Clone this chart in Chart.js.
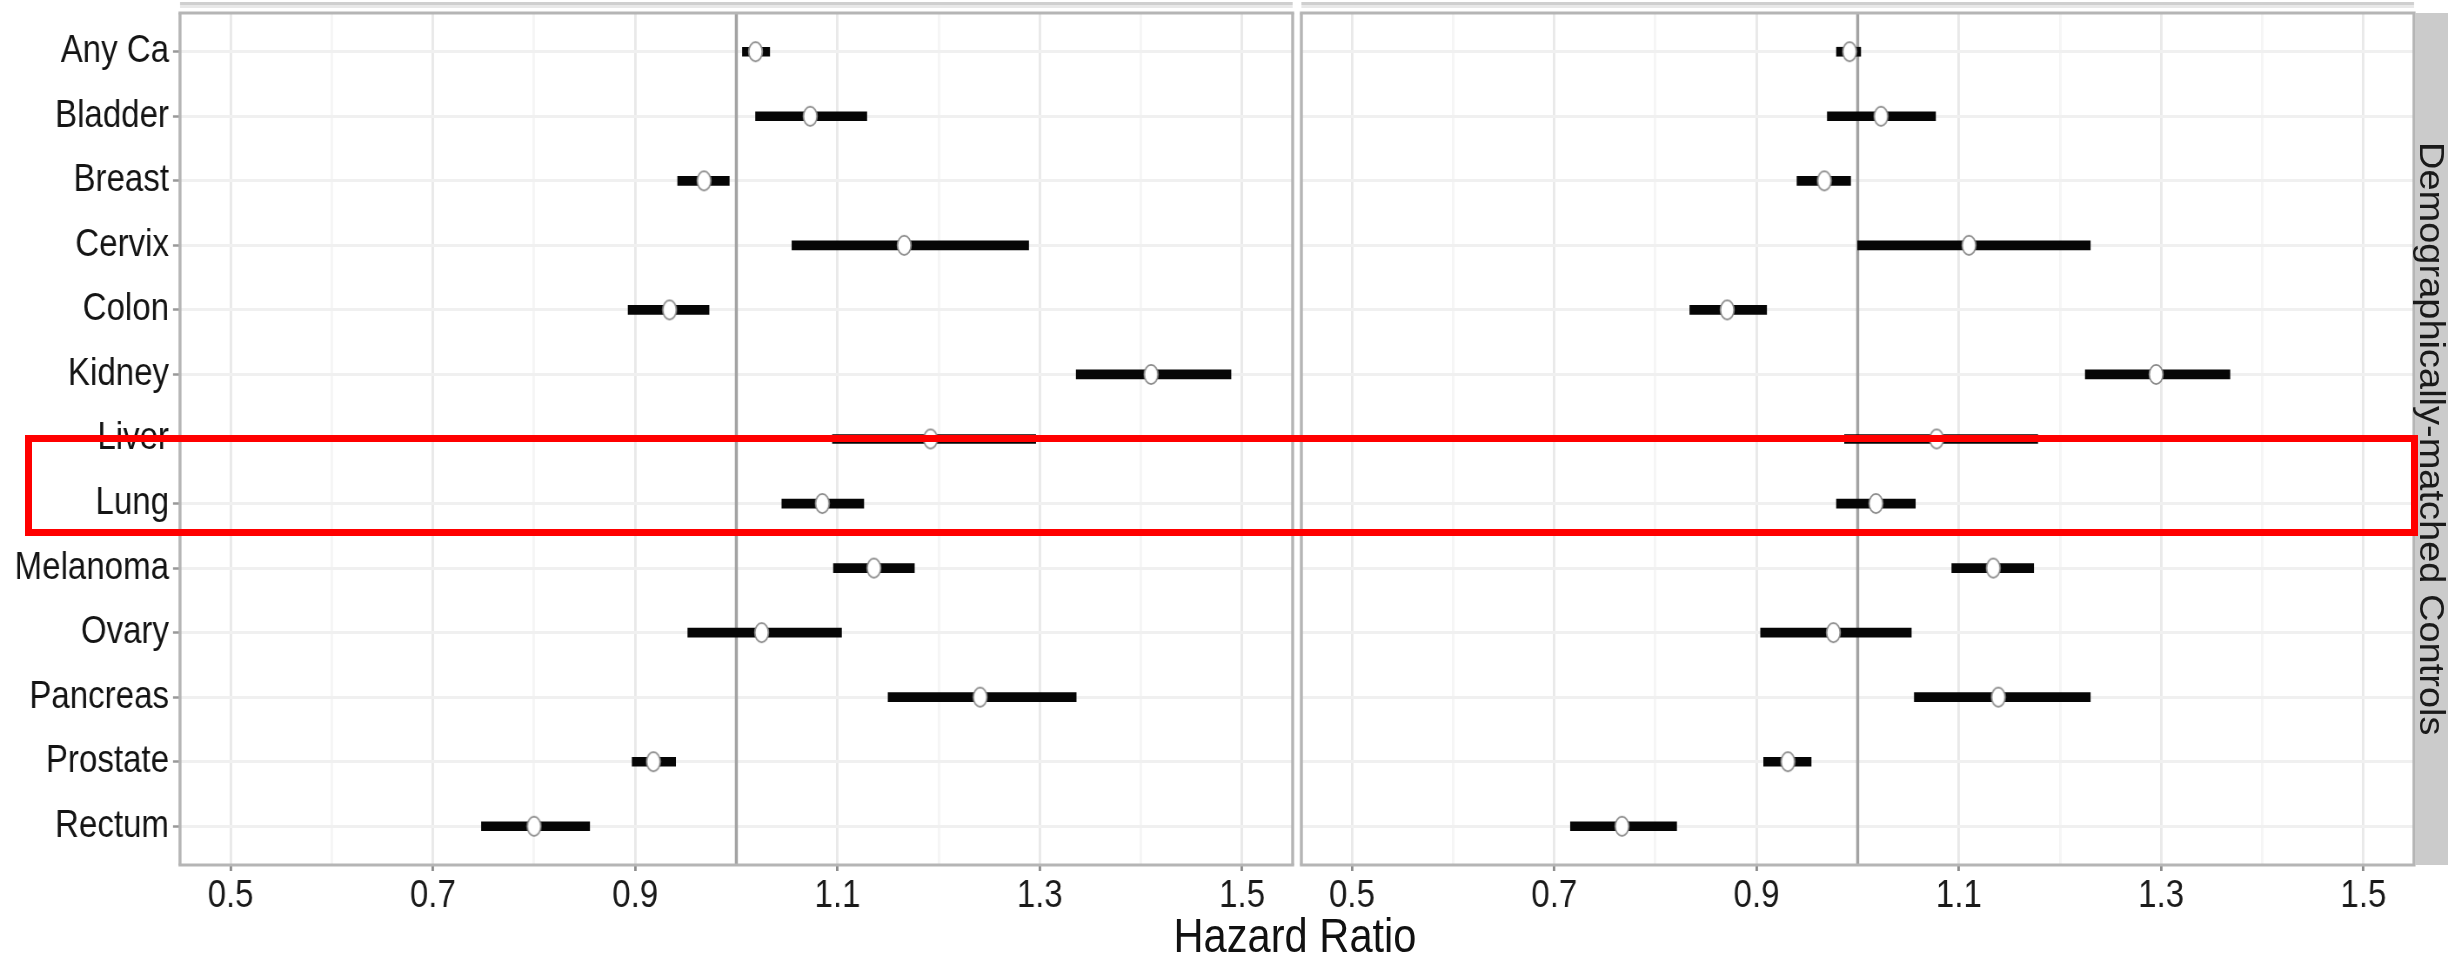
<!DOCTYPE html>
<html>
<head>
<meta charset="utf-8">
<script src="https://cdn.jsdelivr.net/npm/chart.js@4.4.1/dist/chart.umd.min.js"></script>
<style>
    html, body { margin: 0; padding: 0; background: #fff; }
    #wrap { position: relative; width: 2448px; height: 957px; overflow: hidden; background: #fff; }
    #leftChart { position: absolute; left: 0; top: 0; }
    #rightChart { position: absolute; left: 1297px; top: 0; }
    #xTitle {
        position: absolute; left: 995px; width: 600px; top: 910px; text-align: center;
        font: 49px/50px "Liberation Sans", Arial, sans-serif; color: #111;
        transform: scaleX(0.85);
    }
    #strip {
        position: absolute; left: 2415px; top: 13px; width: 33px; height: 852px; background: #cbcbcb;
        display: flex; align-items: center; justify-content: center;
    }
    #strip span {
        writing-mode: vertical-rl; white-space: nowrap; color: #1a1a1a;
        font: 38px "Liberation Sans", Arial, sans-serif; transform: scaleX(0.9);
    }
    #highlight { position: absolute; border: 7.5px solid #ff0000; box-sizing: border-box; }
</style>
</head>
<body>
<div id="wrap">
    <canvas id="leftChart"></canvas>
    <canvas id="rightChart"></canvas>
    <div id="strip"><span>Demographically-matched Controls</span></div>
    <div id="xTitle">Hazard Ratio</div>
    <div id="highlight"></div>
</div>
<script>
var categories = ["Any Ca", "Bladder", "Breast", "Cervix", "Colon", "Kidney", "Liver",
    "Lung", "Melanoma", "Ovary", "Pancreas", "Prostate", "Rectum"];

// left panel
var leftHR    = [1.019, 1.073, 0.968, 1.166, 0.934, 1.410, 1.192, 1.085, 1.136, 1.025, 1.241, 0.918, 0.800];
var leftLower = [1.006, 1.019, 0.942, 1.055, 0.893, 1.336, 1.095, 1.045, 1.096, 0.952, 1.150, 0.897, 0.748];
var leftUpper = [1.033, 1.129, 0.993, 1.289, 0.973, 1.489, 1.296, 1.126, 1.176, 1.104, 1.336, 0.940, 0.855];

// right panel
var rightHR    = [0.992, 1.023, 0.967, 1.110, 0.871, 1.295, 1.078, 1.018, 1.134, 0.976, 1.139, 0.931, 0.767];
var rightLower = [0.979, 0.970, 0.940, 1.000, 0.834, 1.225, 0.987, 0.979, 1.093, 0.904, 1.056, 0.907, 0.716];
var rightUpper = [1.003, 1.077, 0.993, 1.230, 0.910, 1.368, 1.178, 1.057, 1.174, 1.053, 1.230, 0.954, 0.821];

var xMajorTicks = [0.5, 0.7, 0.9, 1.1, 1.3, 1.5];
var xMajorLabels = ["0.5", "0.7", "0.9", "1.1", "1.3", "1.5"];
var xMinorTicks = [0.6, 0.8, 1.0, 1.2, 1.4];
var xMin = 0.45, xMax = 1.55;
var yMin = -0.6, yMax = 12.6;
var refValue = 1;

var highlightFrom = "Liver", highlightTo = "Lung";

// the plot is drawn on a wider canvas and squeezed horizontally by css
var squeeze = 0.87;
var plotHeight = 957;
var tickFont = "'Liberation Sans', Arial, sans-serif";

function majorIndex(v) {
    for (var i = 0; i < xMajorTicks.length; i++) {
        if (Math.abs(xMajorTicks[i] - v) < 1e-6) return i;
    }
    return -1;
}

function sizeCanvas(canvas, cssWidth) {
    canvas.width = Math.round(cssWidth / squeeze);
    canvas.height = plotHeight;
    canvas.style.width = cssWidth + 'px';
    canvas.style.height = plotHeight + 'px';
    return cssWidth / canvas.width;
}

// white ellipse marker with grey outline
function makeMarker(sx) {
    var c = document.createElement('canvas');
    c.width = Math.ceil(16 / sx);
    c.height = 23;
    var g = c.getContext('2d');
    g.beginPath();
    g.ellipse(c.width / 2, 11.5, 6.8 / sx, 9.6, 0, 0, Math.PI * 2);
    g.fillStyle = '#ffffff';
    g.fill();
    g.lineWidth = 1.8;
    g.strokeStyle = '#8a8a8a';
    g.stroke();
    return c;
}

function panelFrame(sx) {
    return {
        id: 'panelFrame',
        beforeDraw: function (chart) {
            var a = chart.chartArea, ctx = chart.ctx;
            ctx.save();
            ctx.fillStyle = '#cfcfcf';
            ctx.fillRect(a.left, 2, a.right - a.left, 3);
            ctx.fillStyle = '#e8e8e8';
            ctx.fillRect(a.left, 5, a.right - a.left, 3);
            ctx.restore();
        },
        afterDatasetsDraw: function (chart) {
            var a = chart.chartArea, ctx = chart.ctx;
            ctx.save();
            ctx.strokeStyle = '#b5b5b5';
            ctx.lineWidth = 3;
            ctx.beginPath();
            ctx.moveTo(a.left - 1.5 / sx, a.top); ctx.lineTo(a.right + 1.5 / sx, a.top);
            ctx.moveTo(a.left - 1.5 / sx, a.bottom); ctx.lineTo(a.right + 1.5 / sx, a.bottom);
            ctx.stroke();
            ctx.lineWidth = 3 / sx;
            ctx.beginPath();
            ctx.moveTo(a.left, a.top); ctx.lineTo(a.left, a.bottom);
            ctx.moveTo(a.right, a.top); ctx.lineTo(a.right, a.bottom);
            ctx.stroke();
            ctx.restore();
        }
    };
}

function createPanel(canvasId, cssWidth, hr, lower, upper, showLabels, pad) {
    var canvas = document.getElementById(canvasId);
    var sx = sizeCanvas(canvas, cssWidth);

    var ciData = categories.map(function (c, i) { return { x: [lower[i], upper[i]], y: i }; });
    var hrData = categories.map(function (c, i) { return { x: hr[i], y: i }; });

    return new Chart(canvas.getContext('2d'), {
        type: 'scatter',
        data: {
            datasets: [{
                type: 'scatter',
                data: hrData,
                pointStyle: makeMarker(sx),
                order: 0
            }, {
                type: 'bar',
                indexAxis: 'y',
                data: ciData,
                backgroundColor: '#060606',
                borderWidth: 0,
                barThickness: 9,
                order: 1
            }, {
                type: 'line',
                data: [{ x: refValue, y: yMin }, { x: refValue, y: yMax }],
                borderColor: '#a3a3a3',
                borderWidth: 3 / sx,
                pointRadius: 0,
                fill: false,
                order: 2
            }]
        },
        options: {
            responsive: false,
            animation: false,
            events: [],
            layout: { padding: { top: 13, bottom: 0, left: pad.left / sx, right: pad.right / sx } },
            plugins: { legend: { display: false }, tooltip: { enabled: false } },
            scales: {
                x: {
                    type: 'linear',
                    min: xMin,
                    max: xMax,
                    offset: false,
                    border: { display: false },
                    afterBuildTicks: function (scale) {
                        scale.ticks = xMajorTicks.concat(xMinorTicks)
                            .sort(function (a, b) { return a - b; })
                            .map(function (v) { return { value: v }; });
                    },
                    afterFit: function (scale) {
                        scale.height = 92;
                        scale.paddingLeft = 0;
                        scale.paddingRight = 0;
                    },
                    ticks: {
                        autoSkip: false,
                        maxRotation: 0,
                        padding: 3,
                        color: '#1a1a1a',
                        font: { family: tickFont, size: 38 },
                        callback: function (v) {
                            var k = majorIndex(v);
                            return k >= 0 ? xMajorLabels[k] : '';
                        }
                    },
                    grid: {
                        offset: false,
                        color: function (c) { return majorIndex(c.tick.value) >= 0 ? '#e9e9e9' : '#f5f5f5'; },
                        lineWidth: 2.5 / sx,
                        tickLength: 6,
                        tickWidth: 2.5 / sx,
                        tickColor: function (c) { return majorIndex(c.tick.value) >= 0 ? '#8c8c8c' : 'rgba(0,0,0,0)'; }
                    }
                },
                y: {
                    type: 'linear',
                    min: yMin,
                    max: yMax,
                    reverse: true,
                    offset: false,
                    border: { display: false },
                    afterBuildTicks: function (scale) {
                        scale.ticks = categories.map(function (c, i) { return { value: i }; });
                    },
                    afterFit: function (scale) {
                        scale.width = showLabels ? 180 / sx : 0;
                        // labels sit well inside the panel, no overhang needed
                        scale.paddingTop = 0;
                        scale.paddingBottom = 0;
                    },
                    ticks: {
                        display: showLabels,
                        autoSkip: false,
                        padding: 4 / sx,
                        color: '#141414',
                        font: { family: tickFont, size: 38 },
                        callback: function (v) { return categories[v]; }
                    },
                    grid: {
                        offset: false,
                        color: '#f0f0f0',
                        lineWidth: 3,
                        drawTicks: showLabels,
                        tickLength: 7 / sx,
                        tickWidth: 2.5,
                        tickColor: '#999999'
                    }
                }
            }
        },
        plugins: [panelFrame(sx)]
    });
}

var leftChart = createPanel('leftChart', 1297, leftHR, leftLower, leftUpper, true,
    { left: 0, right: 4 });
var rightChart = createPanel('rightChart', 1151, rightHR, rightLower, rightUpper, false,
    { left: 4, right: 34 });

// red box around the highlighted rows
var ys = leftChart.scales.y;
var boxTop = ys.getPixelForValue(categories.indexOf(highlightFrom)) - 3.75;
var boxBottom = ys.getPixelForValue(categories.indexOf(highlightTo) + 0.45) + 3.75;
var box = document.getElementById('highlight');
box.style.left = '25px';
box.style.width = (2418 - 25) + 'px';
box.style.top = boxTop + 'px';
box.style.height = (boxBottom - boxTop) + 'px';
</script>
</body>
</html>
